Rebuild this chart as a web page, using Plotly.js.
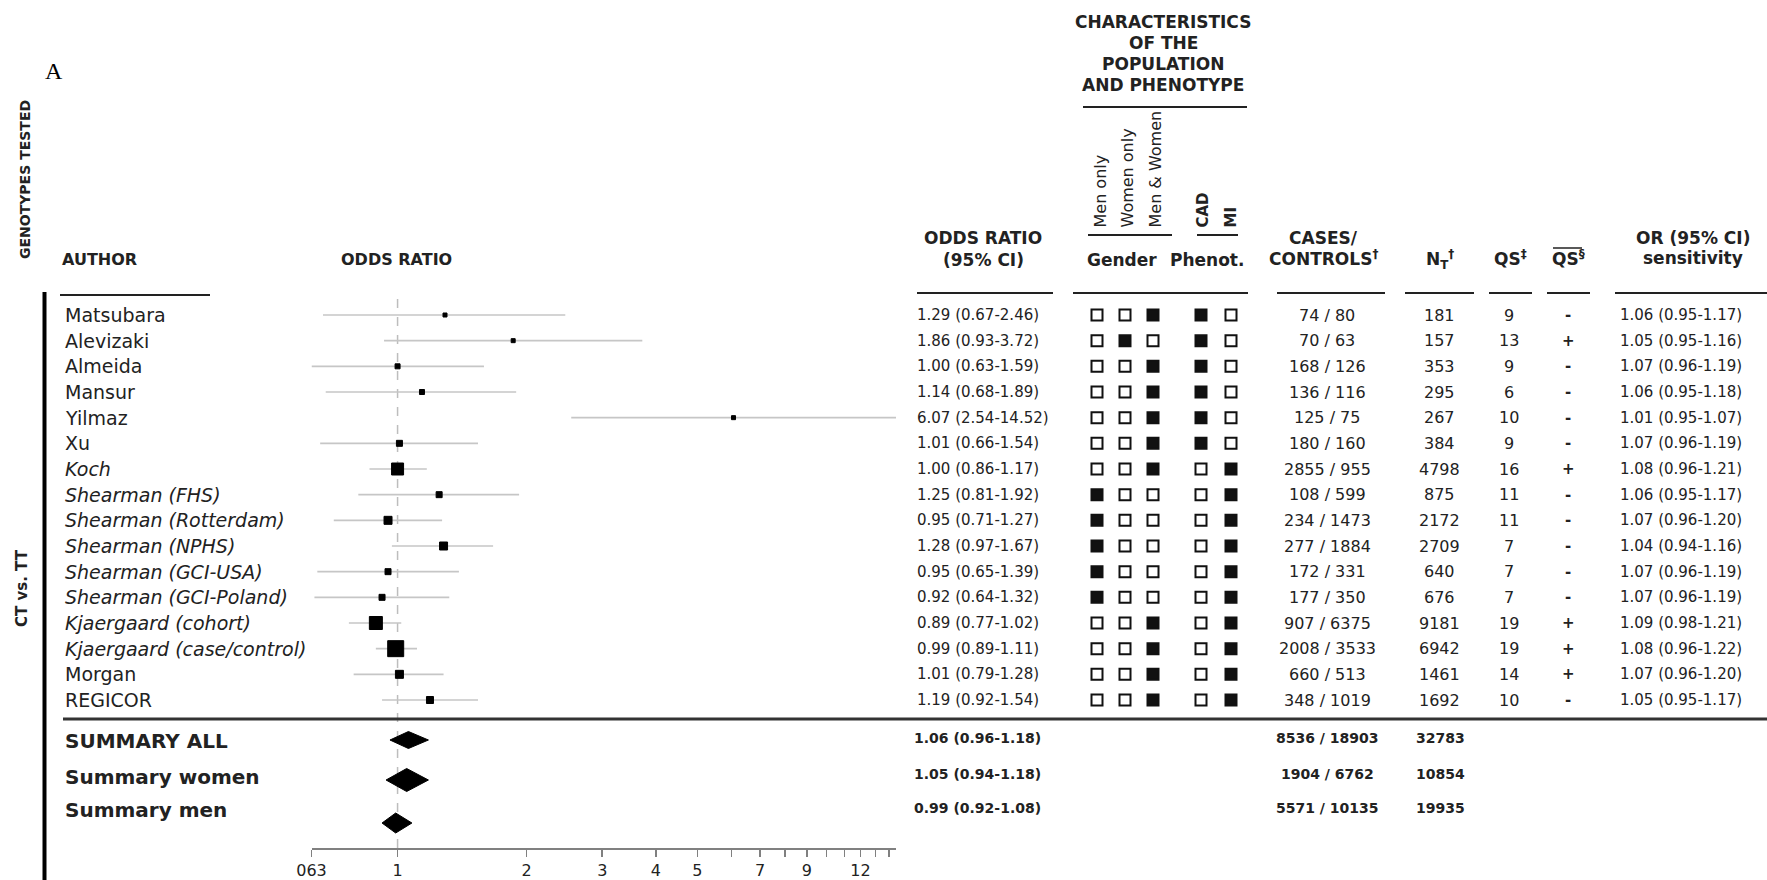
<!DOCTYPE html>
<html><head><meta charset="utf-8">
<script src="https://cdn.plot.ly/plotly-3.0.1.min.js"></script>
<style>html,body{margin:0;padding:0;background:#fff}#chart{width:1767px;height:880px}</style>
</head><body><div id="chart"></div>
<script>
// ---------------- DATA ----------------
const authors = ["Matsubara","Alevizaki","Almeida","Mansur","Yilmaz","Xu","Koch","Shearman (FHS)","Shearman (Rotterdam)","Shearman (NPHS)","Shearman (GCI-USA)","Shearman (GCI-Poland)","Kjaergaard (cohort)","Kjaergaard (case/control)","Morgan","REGICOR"];
const italicName = [0,0,0,0,0,0,1,1,1,1,1,1,1,1,0,0];
const orVal = [1.29,1.86,1.00,1.14,6.07,1.01,1.00,1.25,0.95,1.28,0.95,0.92,0.89,0.99,1.01,1.19];
const orLo  = [0.67,0.93,0.63,0.68,2.54,0.66,0.86,0.81,0.71,0.97,0.65,0.64,0.77,0.89,0.79,0.92];
const orHi  = [2.46,3.72,1.59,1.89,14.52,1.54,1.17,1.92,1.27,1.67,1.39,1.32,1.02,1.11,1.28,1.54];
const menOnly   = [0,0,0,0,0,0,0,1,1,1,1,1,0,0,0,0];
const womenOnly = [0,1,0,0,0,0,0,0,0,0,0,0,0,0,0,0];
const menWomen  = [1,0,1,1,1,1,1,0,0,0,0,0,1,1,1,1];
const phenCAD   = [1,1,1,1,1,1,0,0,0,0,0,0,0,0,0,0];
const phenMI    = [0,0,0,0,0,0,1,1,1,1,1,1,1,1,1,1];
const cases    = [74,70,168,136,125,180,2855,108,234,277,172,177,907,2008,660,348];
const controls = [80,63,126,116,75,160,955,599,1473,1884,331,350,6375,3533,513,1019];
const nTotal   = [181,157,353,295,267,384,4798,875,2172,2709,640,676,9181,6942,1461,1692];
const qs       = [9,13,9,6,10,9,16,11,11,7,7,7,19,19,14,10];
const qsBar    = ["-","+","-","-","-","-","+","-","-","-","-","-","+","+","+","-"];
const sensOR = [1.06,1.05,1.07,1.06,1.01,1.07,1.08,1.06,1.07,1.04,1.07,1.07,1.09,1.08,1.07,1.05];
const sensLo = [0.95,0.95,0.96,0.95,0.95,0.96,0.96,0.95,0.96,0.94,0.96,0.96,0.98,0.96,0.96,0.95];
const sensHi = [1.17,1.16,1.19,1.18,1.07,1.19,1.21,1.17,1.20,1.16,1.19,1.19,1.21,1.22,1.20,1.17];

const sumLabels   = ["SUMMARY ALL","Summary women","Summary men"];
const sumOR       = [1.06,1.05,0.99];
const sumLo       = [0.96,0.94,0.92];
const sumHi       = [1.18,1.18,1.08];
const sumCases    = [8536,1904,5571];
const sumControls = [18903,6762,10135];
const sumN        = [32783,10854,19935];

const tickVals  = [0.63,1,2,3,4,5,7,9,12];
const tickText  = ["063","1","2","3","4","5","7","9","12"];
const minorVals = [6,8,10,11,13,14];

// ---------------- LAYOUT HELPERS ----------------
const W=1767, H=880, ROW0=315, ROWH=25.667;
const P = x => x/W, Q = y => 1 - y/H;
const yTop = -ROW0/ROWH, yBot = (H-ROW0)/ROWH;
const rowOf = ypx => (ypx-ROW0)/ROWH;
const idx = authors.map((_,i)=>i);
const boxSize = [4,4,5,5,4,6,12,6,8,8,6,6,13,16,8,7];
const sumTextRow = [rowOf(741), rowOf(777), rowOf(810)];
const sumDiamRow = [rowOf(740), rowOf(780), rowOf(823)];
const sumDiamHalf = [8.5/ROWH, 11.5/ROWH, 10/ROWH];
const sumValRow = [rowOf(738), rowOf(774), rowOf(808)];
const f2 = v => v.toFixed(2);
const TXT = '#222';

const traces = [];
// CI lines
const cx=[], cy=[];
idx.forEach(i=>{cx.push(orLo[i],orHi[i],null); cy.push(i,i,null);});
traces.push({x:cx,y:cy,mode:'lines',line:{color:'#c6c6c6',width:1.6},xaxis:'x',yaxis:'y',hoverinfo:'skip',showlegend:false});
// boxes
traces.push({x:orVal,y:idx,mode:'markers',opacity:1,marker:{symbol:'square',size:boxSize,color:'#000',opacity:1,line:{color:'#000',width:1}},xaxis:'x',yaxis:'y',showlegend:false});
// diamonds
sumOR.forEach((v,k)=>{
  const r=sumDiamRow[k], h=sumDiamHalf[k];
  traces.push({x:[sumLo[k],v,sumHi[k],v,sumLo[k]],y:[r,r-h,r,r+h,r],mode:'lines',fill:'toself',fillcolor:'#000',line:{color:'#000',width:1},xaxis:'x',yaxis:'y',showlegend:false,hoverinfo:'skip'});
});
// characteristic flags
const flagCols = [[menOnly,1097],[womenOnly,1125],[menWomen,1153],[phenCAD,1201],[phenMI,1231]];
flagCols.forEach(([arr,xp])=>{
  traces.push({x:idx.map(()=>xp),y:idx,mode:'markers',xaxis:'x2',yaxis:'y',showlegend:false,opacity:1,
    marker:{symbol:arr.map(f=>f?'square':'square-open'),size:11,color:'#111',opacity:1,line:{width:2,color:'#111'}}});
});

// annotations
const anns=[];
function A(text,xp,yp,o={}){anns.push(Object.assign({text,x:P(xp),y:Q(yp),xref:'paper',yref:'paper',showarrow:false,xanchor:'center',yanchor:'middle',font:{size:16,color:TXT}},o));}
function R(text,xp,row,o={}){anns.push(Object.assign({text,x:P(xp),y:row,xref:'paper',yref:'y',showarrow:false,xanchor:'center',yanchor:'middle',font:{size:16,color:TXT}},o));}
const B = s => '<b>'+s+'</b>';

A('A',43,71,{xanchor:'left',font:{family:'Liberation Serif',size:24,color:'#000'}});
A(B('GENOTYPES TESTED'),25,180,{textangle:-90,font:{size:14,color:TXT}});
A(B('CT vs. TT'),22,588,{textangle:-90,font:{size:15,color:TXT}});
A(B('AUTHOR'),60,260,{xanchor:'left',font:{size:16,color:TXT}});
A(B('ODDS RATIO'),396,260,{font:{size:16,color:TXT}});
['CHARACTERISTICS','OF THE','POPULATION','AND PHENOTYPE'].forEach((t,k)=>A(B(t),1163,22+21*k,{font:{size:17,color:TXT}}));
A(B('ODDS RATIO'),983,238,{font:{size:17,color:TXT}});
A(B('(95% CI)'),983,260,{font:{size:17,color:TXT}});
A('Men only',1100,230,{textangle:-90,yanchor:'bottom',font:{size:16,color:TXT}});
A('Women only',1127,230,{textangle:-90,yanchor:'bottom',font:{size:16,color:TXT}});
A('Men &amp; Women',1155,230,{textangle:-90,yanchor:'bottom',font:{size:16,color:TXT}});
A(B('CAD'),1202,230,{textangle:-90,yanchor:'bottom',font:{size:15,color:TXT}});
A(B('MI'),1230,230,{textangle:-90,yanchor:'bottom',font:{size:15,color:TXT}});
A(B('Gender'),1122,260,{font:{size:17,color:TXT}});
A(B('Phenot.'),1207,260,{font:{size:17,color:TXT}});
A(B('CASES/'),1323,238,{font:{size:17,color:TXT}});
A(B('CONTROLS<sup>†</sup>'),1323,258,{font:{size:17,color:TXT}});
A(B('N<sub>T</sub><sup>†</sup>'),1440,259,{font:{size:17,color:TXT}});
A(B('QS<sup>‡</sup>'),1510,258,{font:{size:17,color:TXT}});
A(B('QS<sup>§</sup>'),1568,258,{font:{size:17,color:TXT}});
A(B('OR (95% CI)'),1693,238,{font:{size:17,color:TXT}});
A(B('sensitivity'),1693,258,{font:{size:17,color:TXT}});

idx.forEach(i=>{
  R(italicName[i]?'<i>'+authors[i]+'</i>':authors[i],63,i,{xanchor:'left',font:{size:19,color:TXT}});
  R(`${f2(orVal[i])} (${f2(orLo[i])}-${f2(orHi[i])})`,915,i,{xanchor:'left',font:{size:15,color:TXT}});
  R(`${cases[i]} / ${controls[i]}`,1327,i,{font:{size:16,color:TXT}});
  R(String(nTotal[i]),1439,i,{font:{size:16,color:TXT}});
  R(String(qs[i]),1509,i,{font:{size:16,color:TXT}});
  R(B(qsBar[i]),1568,i,{font:{size:15,color:TXT}});
  R(`${f2(sensOR[i])} (${f2(sensLo[i])}-${f2(sensHi[i])})`,1618,i,{xanchor:'left',font:{size:15,color:TXT}});
});
sumLabels.forEach((t,k)=>{
  R(B(t),63,sumTextRow[k],{xanchor:'left',font:{size:20,color:TXT}});
  R(B(`${f2(sumOR[k])} (${f2(sumLo[k])}-${f2(sumHi[k])})`),912,sumValRow[k],{xanchor:'left',font:{size:14,color:TXT}});
  R(B(`${sumCases[k]} / ${sumControls[k]}`),1327,sumValRow[k],{font:{size:14,color:TXT}});
  R(B(String(sumN[k])),1440,sumValRow[k],{font:{size:14,color:TXT}});
});

// shapes
const shapes=[];
function L(x0,y0,x1,y1,w=2,c='#222',dash='solid'){shapes.push({type:'line',xref:'paper',yref:'paper',x0:P(x0),x1:P(x1),y0:Q(y0),y1:Q(y1),line:{color:c,width:w,dash}});}
shapes.push({type:'line',xref:'x',yref:'paper',x0:1,x1:1,y0:Q(848),y1:Q(292),line:{color:'#bdbdbd',width:1.5,dash:'dash'},layer:'below'});
L(44.5,292,44.5,880,4,'#000');
L(60,295,210,295,2);
L(917,293,1053,293,2); L(1073,293,1248,293,2); L(1277,293,1385,293,2);
L(1405,293,1474,293,2); L(1489,293,1532,293,2); L(1547,293,1590,293,2); L(1615,293,1767,293,2);
L(1083,107,1247,107,2);
L(1088,235,1172,235,2); L(1197,235,1238,235,2);
L(1553,248,1582,248,1.5);
L(63,719,1767,719,3,'#333');

const layout={
  width:W,height:H,margin:{l:0,r:0,t:0,b:0},paper_bgcolor:'#fff',plot_bgcolor:'rgba(0,0,0,0)',
  font:{family:'DejaVu Sans',color:TXT},showlegend:false,
  xaxis:{type:'log',range:[Math.log10(0.63),Math.log10(14.52)],domain:[P(311.5),P(896)],anchor:'free',position:Q(848),
    showline:true,linecolor:'#808080',linewidth:1.5,ticks:'outside',ticklen:7,tickwidth:1.5,tickcolor:'#808080',
    tickmode:'array',tickvals:tickVals,ticktext:tickText,tickfont:{size:16,color:TXT},showgrid:false,zeroline:false,fixedrange:true,
    minor:{tickmode:'array',tickvals:minorVals,ticks:'outside',ticklen:7,tickwidth:1.5,tickcolor:'#808080',showgrid:false}},
  xaxis2:{domain:[0,1],range:[0,W],visible:false,anchor:'y',fixedrange:true},
  yaxis:{domain:[0,1],range:[yBot,yTop],visible:false,showgrid:false,zeroline:false,fixedrange:true},
  annotations:anns,shapes:shapes
};
Plotly.newPlot('chart',traces,layout,{displayModeBar:false,staticPlot:true});
</script></body></html>
